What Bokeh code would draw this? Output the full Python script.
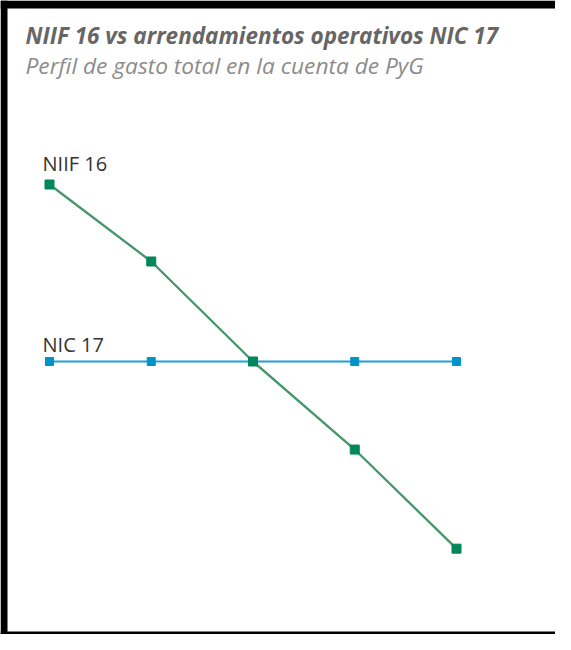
from bokeh.plotting import figure
from bokeh.models import Range1d, Label, BoxAnnotation
from bokeh.embed import file_html
from bokeh.resources import INLINE
from bokeh.core.properties import value

# Data (arbitrary units; NIC 17 flat profile)
years = [1, 2, 3, 4, 5]
niif16 = [140.0, 122.6, 100.0, 80.1, 57.7]
nic17 = [100.0, 100.0, 100.0, 100.0, 100.0]
series_names = ["NIIF 16", "NIC 17"]
title_text = "NIIF 16 vs arrendamientos operativos NIC 17"
subtitle_text = "Perfil de gasto total en la cuenta de PyG"

W, H = 555, 634
px_per_x = 101.75
px_per_y = 4.425
X0 = 0.5184
X1 = X0 + W / px_per_x
Y1 = 181.58
Y0 = Y1 - H / px_per_y

p = figure(width=W, height=H, output_backend="svg", toolbar_location=None,
           x_range=Range1d(X0, X1), y_range=Range1d(Y0, Y1),
           min_border_left=0, min_border_top=0, min_border_right=0, min_border_bottom=0)
p.border_fill_color = "white"
p.background_fill_color = "white"
p.outline_line_color = None
p.xaxis.visible = False
p.yaxis.visible = False
p.grid.visible = False

# black frame (left, top, bottom)
p.add_layout(BoxAnnotation(right=X0 + 7 / px_per_x, fill_color="black", fill_alpha=1, line_color=None))
p.add_layout(BoxAnnotation(bottom=Y1 - 8 / px_per_y, fill_color="black", fill_alpha=1, line_color=None))
p.add_layout(BoxAnnotation(top=Y0 + 3 / px_per_y, fill_color="black", fill_alpha=1, line_color=None))

green_line = "#45966a"
green_mark = "#00875a"
blue_line = "#1f9fd8"
blue_mark = "#0093c9"

p.line(years, nic17, line_color=blue_line, line_width=2)
p.scatter(years, nic17, marker="square", size=8, fill_color=blue_mark, line_color=blue_mark)
p.line(years, niif16, line_color=green_line, line_width=2.3)
p.scatter(years, niif16, marker="square", size=9, fill_color=green_mark, line_color=green_mark)

font = "Open Sans"
p.add_layout(Label(x=25, y=H - 35, x_units="screen", y_units="screen",
                   text=title_text, text_font=font, text_font_size="22.5px",
                   text_font_style="bold italic", text_color="#666666",
                   text_baseline="alphabetic"))
p.add_layout(Label(x=25, y=H - 65, x_units="screen", y_units="screen",
                   text=subtitle_text, text_font=font, text_font_size="22.7px",
                   text_font_style="italic", text_color="#8c8c8c",
                   text_baseline="alphabetic"))

p.text(x=[years[0]], y=[niif16[0]], text=[series_names[0]], x_offset=-7, y_offset=-21,
       text_font=value(font), text_font_size="20px", text_color="#333333",
       text_baseline="alphabetic", text_align="left")
p.text(x=[years[0]], y=[nic17[0]], text=[series_names[1]], x_offset=-7, y_offset=-17,
       text_font=value(font), text_font_size="20px", text_color="#333333",
       text_baseline="alphabetic", text_align="left")

open("out.html", "w").write(file_html(p, INLINE))
